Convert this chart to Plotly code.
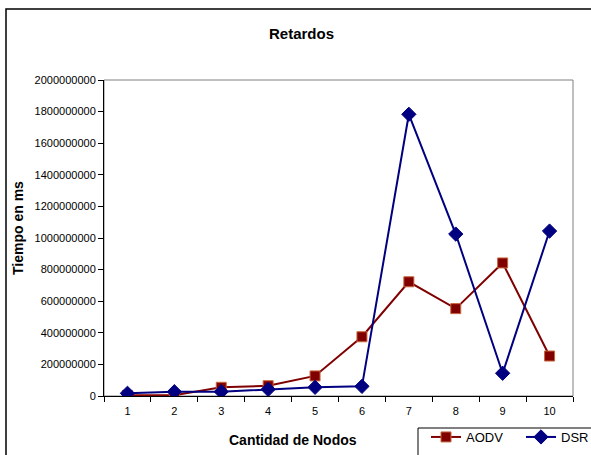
import plotly.graph_objects as go

nodos = [1, 2, 3, 4, 5, 6, 7, 8, 9, 10]
aodv = [4000000, 5000000, 55000000, 65000000, 127000000, 375000000, 723000000, 553000000, 842000000, 253000000]
dsr = [17000000, 27000000, 27000000, 42000000, 55000000, 61000000, 1783000000, 1025000000, 144000000, 1044000000]
y_ticks = [0, 200000000, 400000000, 600000000, 800000000, 1000000000,
           1200000000, 1400000000, 1600000000, 1800000000, 2000000000]

FONT = "Liberation Sans, Arial, sans-serif"

fig = go.Figure()
fig.add_trace(go.Scatter(
    x=nodos, y=aodv, name="AODV", mode="lines+markers",
    line=dict(color="#800000", width=2),
    marker=dict(symbol="square", size=10, color="#800000",
                line=dict(color="#c8643c", width=1)),
))
fig.add_trace(go.Scatter(
    x=nodos, y=dsr, name="DSR", mode="lines+markers",
    line=dict(color="#000080", width=2),
    marker=dict(symbol="diamond", size=11, color="#000080",
                line=dict(color="#000080", width=1)),
))

L, R, T, B = 104, 573, 80, 396
W, H = 591, 455
pw, ph = R - L, B - T

def px(x):
    return (x - L) / pw

def py(y):
    return (B - y) / ph

fig.update_layout(
    width=W, height=H,
    margin=dict(l=L, r=W - R, t=T, b=H - B, autoexpand=False),
    paper_bgcolor="white", plot_bgcolor="white",
    font=dict(family=FONT, color="black", size=11),
    showlegend=True,
    legend=dict(
        orientation="h", x=px(426), y=py(422), xanchor="left", yanchor="top",
        borderwidth=0, bgcolor="rgba(0,0,0,0)",
        font=dict(family=FONT, size=13, color="black"),
        entrywidth=50, entrywidthmode="pixels",
        itemwidth=30, tracegroupgap=0,
    ),
    xaxis=dict(
        range=[0.5, 10.5], tickvals=nodos, ticktext=[str(n) for n in nodos],
        ticks="outside", ticklen=5, tickcolor="rgba(0,0,0,0)",
        showgrid=False, zeroline=False,
        showline=True, linecolor="black", linewidth=1,
        minor=dict(tick0=0.5, dtick=1, ticks="outside", ticklen=5,
                   tickcolor="black", showgrid=False),
        tickfont=dict(family=FONT, size=11, color="black"),
    ),
    yaxis=dict(
        range=[0, 2000000000], tickvals=y_ticks, ticktext=[str(v) for v in y_ticks],
        ticks="outside", ticklen=5, tickcolor="black",
        showgrid=False, zeroline=False,
        showline=True, linecolor="black", linewidth=1,
        tickfont=dict(family=FONT, size=11, color="black"),
    ),
    shapes=[
        dict(type="rect", xref="paper", yref="paper", x0=0, x1=1, y0=0, y1=1,
             line=dict(color="#808080", width=1), layer="below"),
        dict(type="rect", xref="paper", yref="paper",
             x0=px(6), x1=px(W + 20), y0=py(9), y1=py(H + 20),
             line=dict(color="black", width=1.5), layer="below"),
        dict(type="rect", xref="paper", yref="paper",
             x0=px(418), x1=px(W + 20), y0=py(428), y1=py(H + 20),
             line=dict(color="black", width=1), fillcolor="white", layer="above"),
    ],
    annotations=[
        dict(text="<b>Retardos</b>", xref="paper", yref="paper",
             x=px(301), y=py(33), xanchor="center", yanchor="middle",
             showarrow=False, font=dict(family=FONT, size=15, color="black")),
        dict(text="<b>Cantidad de Nodos</b>", xref="paper", yref="paper",
             x=px(293), y=py(440), xanchor="center", yanchor="middle",
             showarrow=False, font=dict(family=FONT, size=14, color="black")),
        dict(text="<b>Tiempo en ms</b>", xref="paper", yref="paper",
             x=px(18), y=py(228), xanchor="center", yanchor="middle", textangle=-90,
             showarrow=False, font=dict(family=FONT, size=14, color="black")),
    ],
)

fig.write_html("out.html", config={"displayModeBar": False},
               post_script="document.body.style.margin='0px';")
